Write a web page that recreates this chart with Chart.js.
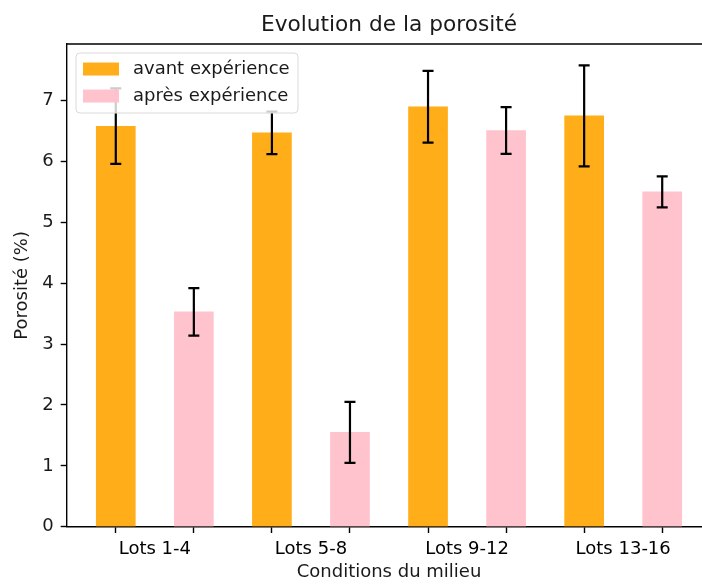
<!DOCTYPE html>
<html lang="fr">
<head>
<meta charset="UTF-8">
<title>Evolution de la porosité</title>
<script src="https://cdn.jsdelivr.net/npm/chart.js"></script>
<style>
  html, body { margin: 0; padding: 0; background: #ffffff; overflow: hidden; }
  /* le canvas dépasse la fenêtre : l'axe de droite est coupé comme sur l'original */
  #wrap { width: 730px; height: 588px; }
</style>
</head>
<body>
<div id="wrap"><canvas id="chart" width="730" height="588"></canvas></div>
<script>
// Données
const categories = ['Lots 1-4', 'Lots 5-8', 'Lots 9-12', 'Lots 13-16'];
const avantValues = [6.58, 6.47, 6.90, 6.75];
const avantErrors = [0.62, 0.35, 0.59, 0.83];
const apresValues = [3.53, 1.55, 6.51, 5.50];
const apresErrors = [0.39, 0.50, 0.385, 0.255];
const yTicks = [0, 1, 2, 3, 4, 5, 6, 7];

const font = 'DejaVu Sans';
const textColor = '#1a1a1a';

// position des barres : décalage de part et d'autre du centre du groupe
const toPoints = (values, shift) => values.map((v, i) => ({ x: i + shift, y: v }));
const xTickValues = [];
categories.forEach((_, i) => { xTickValues.push(i - 0.25, i, i + 0.25); });

// Barres d'erreur (noires, avec capuchons)
const errorBars = {
  id: 'errorBars',
  afterDatasetsDraw(chart) {
    const { ctx, scales: { x, y } } = chart;
    ctx.save();
    ctx.strokeStyle = '#000000';
    ctx.lineWidth = 2.2;
    chart.data.datasets.forEach(ds => {
      ds.data.forEach((pt, i) => {
        const err = ds.errors[i];
        const px = x.getPixelForValue(pt.x);
        const top = y.getPixelForValue(pt.y + err);
        const bot = y.getPixelForValue(pt.y - err);
        ctx.beginPath();
        ctx.moveTo(px, top); ctx.lineTo(px, bot);
        ctx.moveTo(px - 5.5, top); ctx.lineTo(px + 5.5, top);
        ctx.moveTo(px - 5.5, bot); ctx.lineTo(px + 5.5, bot);
        ctx.stroke();
      });
    });
    ctx.restore();
  }
};

// Cadre des axes (haut et droite) + légende façon matplotlib
const frameAndLegend = {
  id: 'frameAndLegend',
  afterDraw(chart) {
    const { ctx, chartArea: a } = chart;
    ctx.save();
    ctx.strokeStyle = '#000000';
    ctx.lineWidth = 1.4;
    ctx.beginPath();
    ctx.moveTo(a.left, a.top);
    ctx.lineTo(a.right, a.top);
    ctx.lineTo(a.right, a.bottom);
    ctx.stroke();

    // légende
    const lx = a.left + 9, ly = a.top + 9, lw = 222, lh = 60;
    ctx.beginPath();
    ctx.roundRect(lx, ly, lw, lh, 4);
    ctx.fillStyle = 'rgba(255,255,255,0.8)';
    ctx.fill();
    ctx.strokeStyle = '#d9d9d9';
    ctx.lineWidth = 1;
    ctx.stroke();
    ctx.font = '18px "' + font + '"';
    ctx.textBaseline = 'middle';
    chart.data.datasets.forEach((ds, i) => {
      const rowY = ly + 16.5 + i * 27;
      ctx.fillStyle = ds.backgroundColor;
      ctx.fillRect(lx + 7, rowY - 7, 36, 13);
      ctx.fillStyle = textColor;
      ctx.fillText(ds.label, lx + 57, rowY);
    });
    ctx.restore();
  }
};

new Chart(document.getElementById('chart'), {
  type: 'bar',
  data: {
    datasets: [
      {
        label: 'avant expérience',
        data: toPoints(avantValues, -0.25),
        errors: avantErrors,
        backgroundColor: 'rgba(255,165,0,0.9)',
        grouped: false,
        barPercentage: 1,
        categoryPercentage: 1
      },
      {
        label: 'après expérience',
        data: toPoints(apresValues, 0.25),
        errors: apresErrors,
        backgroundColor: 'rgba(255,192,203,0.95)',
        grouped: false,
        barPercentage: 1,
        categoryPercentage: 1
      }
    ]
  },
  options: {
    responsive: false,
    animation: false,
    layout: { padding: { left: 0, right: 19, top: 0, bottom: 0 } },
    plugins: {
      legend: { display: false },
      tooltip: { enabled: false },
      title: {
        display: true,
        fullSize: false,
        text: 'Evolution de la porosité',
        color: textColor,
        font: { family: font, size: 21.7, weight: 'normal' },
        padding: { top: 12, bottom: 6 }
      }
    },
    scales: {
      x: {
        type: 'linear',
        offset: false,
        min: -0.5625,
        max: 3.5625,
        afterBuildTicks: scale => { scale.ticks = xTickValues.map(v => ({ value: v })); },
        afterFit: scale => { scale.height = 61.3; },
        ticks: {
          autoSkip: false,
          maxRotation: 0,
          color: '#000000',
          padding: 6,
          font: { family: font, size: 18 },
          callback: v => Number.isInteger(v) ? categories[v] : ''
        },
        grid: {
          offset: false,
          drawOnChartArea: false,
          tickLength: 6.3,
          tickWidth: 1.4,
          tickColor: c => (c.tick && Number.isInteger(c.tick.value)) ? 'rgba(0,0,0,0)' : '#000000'
        },
        border: { color: '#000000', width: 1.4 },
        title: {
          display: true,
          text: 'Conditions du milieu',
          color: textColor,
          font: { family: font, size: 18 },
          padding: { top: 0, bottom: 5 }
        }
      },
      y: {
        min: 0,
        max: 7.93,
        afterBuildTicks: scale => { scale.ticks = yTicks.map(v => ({ value: v })); },
        afterFit: scale => { scale.width = 67; },
        ticks: {
          color: textColor,
          padding: 7,
          font: { family: font, size: 18 }
        },
        grid: {
          drawOnChartArea: false,
          tickLength: 6.3,
          tickWidth: 1.4,
          tickColor: '#000000'
        },
        border: { color: '#000000', width: 1.4 },
        title: {
          display: true,
          text: 'Porosité (%)',
          color: textColor,
          font: { family: font, size: 18 },
          padding: { top: 11.5, bottom: 0 }
        }
      }
    }
  },
  plugins: [errorBars, frameAndLegend]
});
</script>
</body>
</html>
